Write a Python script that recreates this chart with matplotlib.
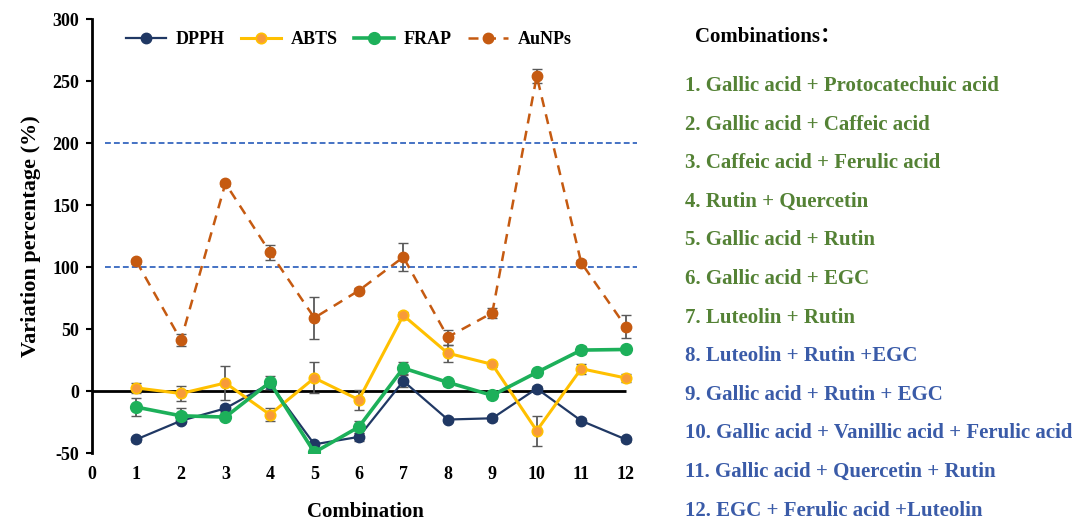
import matplotlib
matplotlib.use("Agg")
import matplotlib.pyplot as plt
import numpy as np

plt.rcParams['font.family'] = ['Liberation Serif', 'DejaVu Serif']
plt.rcParams['font.weight'] = 'bold'
plt.rcParams['axes.labelweight'] = 'bold'
plt.rcParams['axes.unicode_minus'] = False

# combination index 1..12
combos = np.arange(1, 13)

# variation percentage (%)
dpph = [-39, -24, -14, 6, -43, -37, 8, -23, -22, 2, -24, -39]
dpph_err = [2, 2, 3, 2, 2, 3, 5, 2, 2, 2, 2, 2]

abts = [2.5, -2, 6.5, -19, 10.5, -7, 61, 30.5, 21.5, -32, 18, 10.5]
abts_err = [4, 6, 13.5, 5, 12.5, 8, 3, 7, 2, 12, 4, 3.5]

frap = [-13, -20, -21, 7, -49.5, -29, 18.5, 7, -3.5, 15, 33, 33.5]
frap_err = [7, 6, 2, 5, 2, 5, 4.5, 3, 2, 2, 3.5, 2]

aunps = [104.5, 41, 167.5, 112, 59, 81, 108, 43.5, 63, 254, 103.5, 52]
aunps_err = [2, 5, 2, 6, 17, 2, 11, 6, 4, 6, 2, 9]

ref_levels = [100, 200]

combo_names = [
    "1. Gallic acid + Protocatechuic acid",
    "2. Gallic acid + Caffeic acid",
    "3. Caffeic acid + Ferulic acid",
    "4. Rutin + Quercetin",
    "5. Gallic acid + Rutin",
    "6. Gallic acid + EGC",
    "7. Luteolin + Rutin",
    "8. Luteolin + Rutin +EGC",
    "9. Gallic acid + Rutin + EGC",
    "10. Gallic acid + Vanillic acid + Ferulic acid",
    "11. Gallic acid + Quercetin + Rutin",
    "12. EGC + Ferulic acid +Luteolin",
]
# first 7 are two-compound mixes (green), rest three-compound (blue)
n_pairs = 7

fig = plt.figure(figsize=(10.72, 5.21), dpi=100)
ax = fig.add_axes([0.0858, 0.1305, 0.5103, 0.833])

errcol = '#595959'

# reference lines
ax.hlines(ref_levels, 0.3, 12.25, colors='#4472C4', linestyles=(0, (3, 1.6)), linewidth=1.4, zorder=1)
ax.hlines(0, 0, 12, colors='black', linewidth=2, zorder=1)

for vals, errs in [(aunps, aunps_err), (abts, abts_err), (frap, frap_err), (dpph, dpph_err)]:
    ax.errorbar(combos, vals, yerr=errs, fmt='none', ecolor=errcol, elinewidth=1.3, capsize=3.5, zorder=2)

ax.plot(combos, dpph, color='#203864', lw=1.6, marker='o', ms=7.5, label='DPPH', zorder=4)
ax.plot(combos, abts, color='#FFC000', lw=2.2, marker='o', ms=7.5, mfc='#F79A3A', mec='#FFC000', mew=1.2,
        label='ABTS', zorder=4)
ax.plot(combos, frap, color='#1DB05A', lw=2.6, marker='o', ms=8.5, label='FRAP', zorder=4)
ax.plot(combos, aunps, color='#C55A11', lw=1.8, ls=(0, (4, 3)), marker='o', ms=7.5, label='AuNPs', zorder=3)

ax.set_xlim(0, 12.3)
ax.set_ylim(-50, 300)
ax.set_xticks(range(0, 13))
ax.set_yticks(range(-50, 301, 50))
ax.tick_params(axis='x', length=0, pad=9, labelsize=13)
ax.tick_params(axis='y', direction='out', length=4, width=1.5, pad=5, labelsize=13)
for s in ['top', 'right', 'bottom']:
    ax.spines[s].set_visible(False)
ax.spines['left'].set_linewidth(2)

ax.set_xlabel('Combination', fontsize=15, labelpad=14)
ax.set_ylabel('Variation percentage (%)', fontsize=16, labelpad=8)

ax.legend(loc='center', bbox_to_anchor=(0.47, 0.952), ncol=4, frameon=False, fontsize=13,
          handlelength=2.2, columnspacing=0.9, handletextpad=0.55)

fig.text(695 / 1072, 1 - 37 / 521, 'Combinations：', fontsize=15, va='center', ha='left', color='black',
         fontweight='bold', family=['Liberation Serif', 'Noto Sans CJK SC'])
for i, name in enumerate(combo_names):
    col = '#548235' if i < n_pairs else '#3A5BA8'
    fig.text(685 / 1072, 1 - (86 + i * 38.6) / 521, name, fontsize=15, va='center', ha='left', color=col)

plt.savefig('out.png', dpi=100)
